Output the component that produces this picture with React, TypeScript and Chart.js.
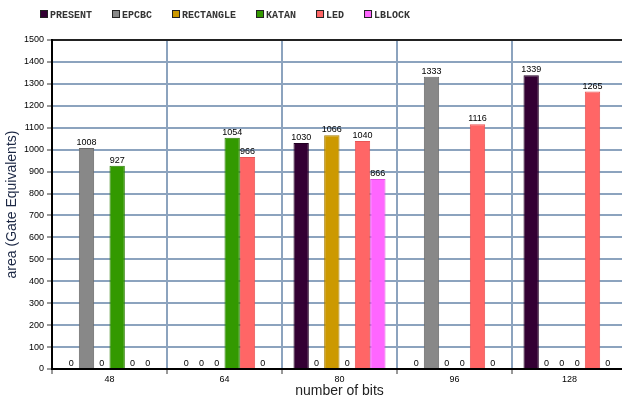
import React, { useEffect, useRef } from "react";
import { Chart, registerables } from "chart.js";

Chart.register(...registerables);

const categories = ["48", "64", "80", "96", "128"];
const seriesNames = ["PRESENT", "EPCBC", "RECTANGLE", "KATAN", "LED", "LBLOCK"];
const presentValues = [0, 0, 1030, 0, 1339];
const epcbcValues = [1008, 0, 0, 1333, 0];
const rectangleValues = [0, 0, 1066, 0, 0];
const katanValues = [927, 1054, 0, 0, 0];
const ledValues = [0, 966, 1040, 1116, 1265];
const lblockValues = [0, 0, 866, 0, 0];
const seriesValues = [presentValues, epcbcValues, rectangleValues, katanValues, ledValues, lblockValues];
const fillColors = ["#330033", "#888888", "#cc9900", "#339900", "#ff6666", "#ff66ff"];
const borderColors = ["#220022", "#6a6a6a", "#a67c00", "#2a7d00", "#e85555", "#e050e0"];

const xTitle = "number of bits";
const yTitle = "area (Gate Equivalents)";

const valueLabelPlugin = {
  id: "valueLabels",
  afterDatasetsDraw(chart: any) {
    const ctx = chart.ctx;
    ctx.save();
    ctx.font = "9px 'Liberation Sans', Arial, sans-serif";
    ctx.fillStyle = "#000";
    ctx.textAlign = "center";
    ctx.textBaseline = "bottom";
    chart.data.datasets.forEach((ds: any, i: number) => {
      const meta = chart.getDatasetMeta(i);
      meta.data.forEach((el: any, j: number) => {
        ctx.fillText(String(ds.data[j]), el.x, el.y - 1);
      });
    });
    ctx.restore();
  },
};

const legendPlugin = {
  id: "customLegend",
  afterDraw(chart: any) {
    const ctx = chart.ctx;
    ctx.save();
    ctx.font = "bold 10px 'Liberation Mono', 'DejaVu Sans Mono', monospace";
    ctx.textBaseline = "middle";
    ctx.textAlign = "left";
    let x = chart.chartArea.left - 12;
    const y = 14;
    chart.data.datasets.forEach((ds: any) => {
      ctx.fillStyle = ds.backgroundColor;
      ctx.fillRect(x, y - 4, 8, 8);
      ctx.strokeStyle = "#222";
      ctx.lineWidth = 1;
      ctx.strokeRect(x + 0.5, y - 3.5, 7, 7);
      ctx.fillStyle = "#333";
      ctx.fillText(ds.label, x + 10, y + 1);
      x += 10 + ctx.measureText(ds.label).width + 20;
    });
    ctx.restore();
  },
};

export default function App() {
  const canvasRef = useRef<HTMLCanvasElement | null>(null);

  useEffect(() => {
    if (!canvasRef.current) return;
    const chart = new Chart(canvasRef.current, {
      type: "bar",
      data: {
        labels: categories,
        datasets: seriesNames.map((name, i) => ({
          label: name,
          data: seriesValues[i],
          backgroundColor: fillColors[i],
          borderColor: borderColors[i],
          borderWidth: 1,
          categoryPercentage: 0.8,
          barPercentage: 1.0,
        })),
      },
      options: {
        animation: false,
        responsive: false,
        devicePixelRatio: 1,
        layout: { padding: { left: 0, right: 1, top: 40, bottom: 0 } },
        plugins: {
          legend: { display: false },
          tooltip: { enabled: false },
        },
        scales: {
          x: {
            afterFit(scale: any) {
              scale.height = 32;
            },
            grid: {
              offset: true,
              color: "#8ca3be",
              lineWidth: 2,
              tickLength: 5,
              tickColor: "#333",
              tickWidth: 1,
            },
            border: { color: "#000", width: 2 },
            ticks: {
              color: "#000",
              font: { family: "'Liberation Sans', Arial, sans-serif", size: 9 },
              padding: 0,
            },
            title: {
              display: true,
              text: xTitle,
              color: "#222",
              font: { family: "'Liberation Sans', Arial, sans-serif", size: 14 },
              padding: { top: 0, bottom: 1 },
            },
          },
          y: {
            min: 0,
            max: 1500,
            afterFit(scale: any) {
              scale.width = 52;
            },
            grid: {
              color: (c: any) => (c.tick && c.tick.value === 1500 ? "#222" : "#8ca3be"),
              lineWidth: 2,
              tickLength: 5,
              tickColor: "#333",
              tickWidth: 1,
            },
            border: { color: "#000", width: 2 },
            ticks: {
              stepSize: 100,
              color: "#000",
              font: { family: "'Liberation Sans', Arial, sans-serif", size: 9 },
              padding: 3,
              callback: (v: any) => String(v),
            },
            title: {
              display: true,
              text: yTitle,
              color: "#1c2845",
              font: { family: "'Liberation Sans', Arial, sans-serif", size: 14 },
              padding: { top: 4, bottom: 4 },
            },
          },
        },
      },
      plugins: [valueLabelPlugin, legendPlugin],
    });
    return () => chart.destroy();
  }, []);

  return (
    <div
      style={{
        position: "absolute",
        left: 0,
        top: 0,
        width: 622,
        height: 401,
        overflow: "hidden",
        background: "#fff",
      }}
    >
      <canvas ref={canvasRef} width={628} height={401} style={{ display: "block", width: 628, height: 401 }} />
    </div>
  );
}
